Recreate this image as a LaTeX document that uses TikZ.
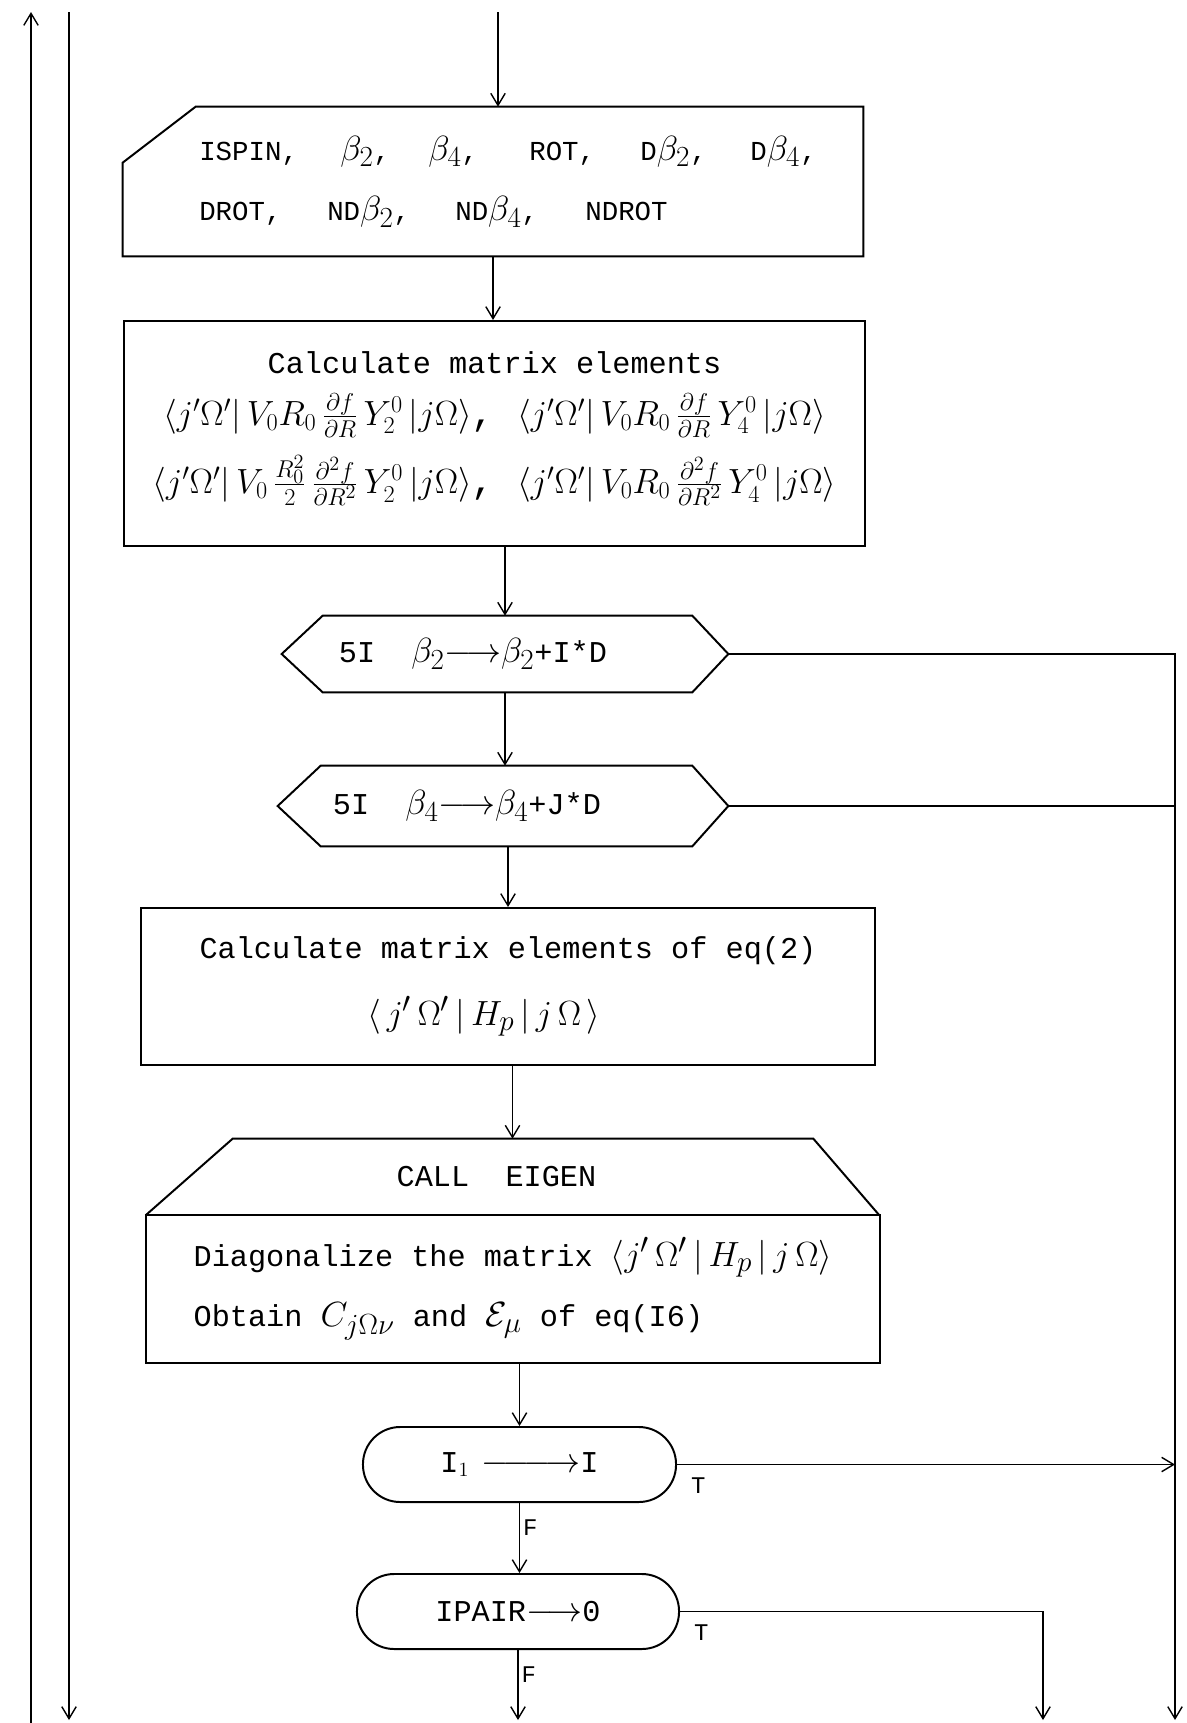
\documentclass[tikz,border=0pt]{standalone}
\usepackage{fontspec}
\setmainfont{Liberation Mono}
\usetikzlibrary{arrows.meta,positioning,calc}
\newcommand\bt[1]{{\fontsize{28}{28}\selectfont$\beta_{#1}$}}
\newcommand\mth[1]{{\fontsize{30}{30}\selectfont$#1$}}

\begin{document}
\begin{tikzpicture}[
  x=0.025cm, y=-0.025cm,
  >={Straight Barb[length=3mm,width=3.6mm]},
  flow/.style={line width=1pt},
  outline/.style={line width=1.4pt, line join=miter},
  bigtxt/.style={font=\fontsize{21.5}{26}\selectfont},
  smalltxt/.style={font=\fontsize{19.5}{24}\selectfont},
  lbl/.style={font=\fontsize{17}{20}\selectfont, inner sep=2pt},
  box/.style={draw, line width=1.4pt, inner sep=0pt, align=center, bigtxt},
  hexnode/.style={inner xsep=1.425cm, inner ysep=0pt, minimum height=1.9cm, text width=8.3cm, align=left, bigtxt},
  term/.style={draw, line width=1.4pt, rounded corners=0.93cm, minimum height=1.875cm, inner sep=0pt, bigtxt},
]
\fill[white] (0,0) rectangle (1186,1723);
\useasboundingbox (0,0) rectangle (1186,1723);

% loop lines on the left
\coordinate (l1a) at (31,1723);
\coordinate (l1b) at (31,12);
\coordinate (l2a) at (69,12);
\coordinate (l2b) at (69,1720);
\draw[flow, ->] (l1a) -- (l1b);
\draw[flow, ->] (l2a) -- (l2b);

% parameter card (cut corner)
\coordinate (in) at (498,12);
\node[smalltxt, inner sep=0pt, align=left, minimum width=18.5cm, minimum height=3.725cm] (par) at (493,181.5)
  {\hspace*{0.75cm}\makebox[3.525cm][l]{ISPIN,}\makebox[2.2cm][l]{\bt2,}\makebox[2.525cm][l]{\bt4,}\makebox[2.775cm][l]{ROT,}\makebox[2.75cm][l]{D\bt2,}D\bt4,\\[19pt]
   \hspace*{0.75cm}\makebox[3.2cm][l]{DROT,}\makebox[3.2cm][l]{ND\bt2,}\makebox[3.25cm][l]{ND\bt4,}NDROT};
\draw[outline] ($(par.north west)+(73,0)$) -- (par.north east) -- (par.south east) -- (par.south west) -- ($(par.north west)+(0,56)$) -- cycle;
\draw[flow, ->] (in) -- (in |- par.north);

% matrix elements
\node[box, minimum width=18.525cm, minimum height=5.625cm] (mx) at (494.5,433.5)
  {Calculate matrix elements\\[11pt]
   {\fontsize{27}{32}\selectfont$\langle j'\Omega'|\,V_0R_0\,\frac{\partial f}{\partial R}\,Y_2^0\,|j\Omega\rangle$, $\langle j'\Omega'|\,V_0R_0\,\frac{\partial f}{\partial R}\,Y_4^0\,|j\Omega\rangle$}\\[12pt]
   {\fontsize{27}{32}\selectfont$\langle j'\Omega'|\,V_0\,\frac{R_0^2}{2}\,\frac{\partial^2 f}{\partial R^2}\,Y_2^0\,|j\Omega\rangle$, $\langle j'\Omega'|\,V_0R_0\,\frac{\partial^2 f}{\partial R^2}\,Y_4^0\,|j\Omega\rangle$}\\[-10pt]};
\draw[flow, ->] (par.south) -- (par.south |- mx.north);

% loops over beta_2 and beta_4
\node[hexnode] (h1) at (505,654) {5I\hspace{0.9cm}\bt2\mth{\longrightarrow}\bt2+I*D};
\draw[outline] (h1.west) -- ($(h1.north west)+(41,0)$) -- ($(h1.north east)+(-36,0)$) -- (h1.east) -- ($(h1.south east)+(-36,0)$) -- ($(h1.south west)+(41,0)$) -- cycle;
\node[hexnode, text width=8.5cm, inner xsep=1.375cm, minimum height=2cm] (h2) at (503,806) {5I\hspace{0.9cm}\bt4\mth{\longrightarrow}\bt4+J*D};
\draw[outline] (h2.west) -- ($(h2.north west)+(43,0)$) -- ($(h2.north east)+(-36,0)$) -- (h2.east) -- ($(h2.south east)+(-36,0)$) -- ($(h2.south west)+(43,0)$) -- cycle;
\draw[flow, ->] (mx.south -| h1.north) -- (h1.north);
\draw[flow, ->] (h1.south) -- (h1.south |- h2.north);

% hamiltonian
\node[box, minimum width=18.35cm, minimum height=3.925cm] (eq2) at (508,986.5)
  {Calculate matrix elements of eq(2)\\[21pt]
   \hspace*{-1.2cm}\mth{\langle\, j'\,\Omega'\,|\,H_p\,|\,j\,\Omega\,\rangle}};
\draw[flow, ->] (eq2.north |- h2.south) -- (eq2.north);

% eigen call
\node[bigtxt, inner sep=0pt, minimum width=18.325cm, minimum height=1.9cm] (eigen) at (512.5,1177) {CALL\ \ EIGEN\hspace*{0.8cm}};
\draw[outline] (eigen.south west) -- ($(eigen.north west)+(87,0)$) -- ($(eigen.north east)+(-66,0)$) -- (eigen.south east);
\node[box, align=left, minimum width=18.35cm, minimum height=3.7cm] (diag) at (513,1289)
  {Diagonalize the matrix \mth{\langle j'\,\Omega'\,|\,H_p\,|\,j\,\Omega\rangle}\\[17pt]
   Obtain \mth{C_{j\Omega\nu}} and \mth{\mathcal{E}_\mu} of eq(I6)};
\draw[flow, ->] (eigen.north |- eq2.south) -- (eigen.north);

% tests
\node[term, minimum width=7.825cm] (cnt) at (519.5,1464.5) {I$_1$\hspace{0.3cm}\mth{\relbar\joinrel\relbar\joinrel\longrightarrow}I};
\node[term, minimum width=8.05cm] (pair) at (518,1611.5) {IPAIR\mth{\longrightarrow}0};
\draw[flow, ->] (cnt.north |- diag.south) -- (cnt.north);
\draw[flow, ->] (cnt.south) -- node[lbl, right, pos=0.35] {F} (cnt.south |- pair.north);
\coordinate (out) at (518,1720);
\draw[flow, ->] (pair.south) -- node[lbl, right, pos=0.35] {F} (out);
\node[lbl, below right=0.25cm and 0.275cm of cnt.east] (t1) {T};
\node[lbl, below right=0.25cm and 0.275cm of pair.east] (t2) {T};

% exits on the right
\coordinate (rx) at (1175,1720);
\coordinate (px) at (1043,1720);
\draw[flow, ->] (h1.east) -- (h1.east -| rx) -- (rx);
\draw[flow] (h2.east) -- (h2.east -| rx);
\draw[flow, ->] (cnt.east) -- (cnt.east -| rx);
\draw[flow, ->] (pair.east) -- (pair.east -| px) -- (px);
\end{tikzpicture}
\end{document}
